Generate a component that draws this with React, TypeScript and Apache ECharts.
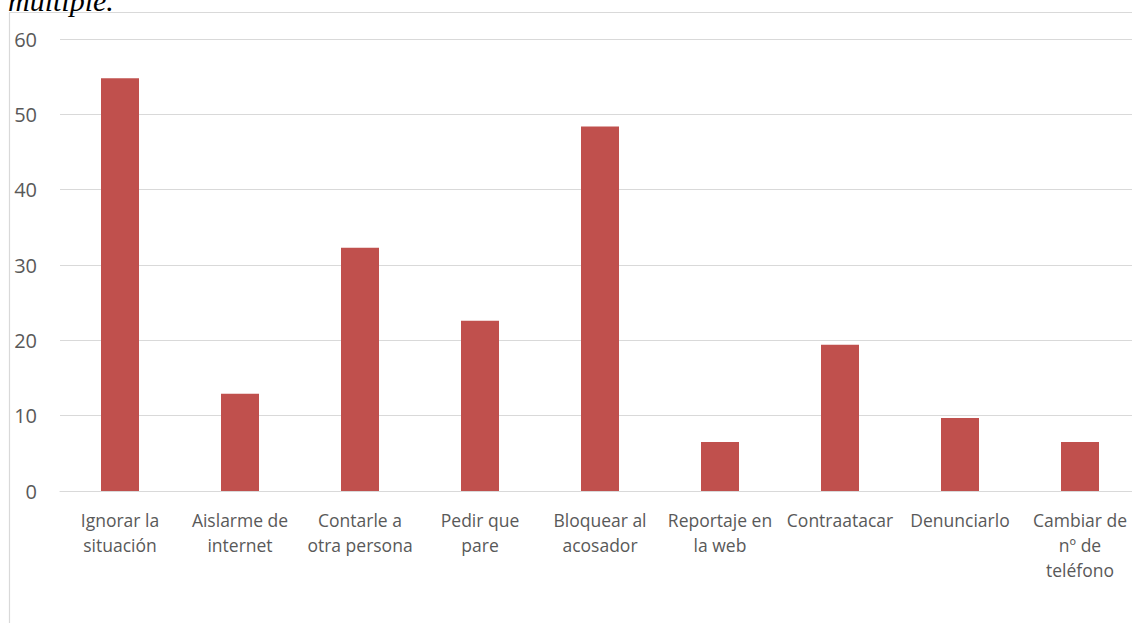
import React, { useEffect, useRef } from "react";
import * as echarts from "echarts";

const categories = [
  "Ignorar la\nsituación",
  "Aislarme de\ninternet",
  "Contarle a\notra persona",
  "Pedir que\npare",
  "Bloquear al\nacosador",
  "Reportaje en\nla web",
  "Contraatacar",
  "Denunciarlo",
  "Cambiar de\nnº de\nteléfono",
];
const values = [54.8, 12.9, 32.3, 22.6, 48.4, 6.5, 19.4, 9.7, 6.5];
const yMin = 0;
const yMax = 60;
const yStep = 10;
const headingText = "múltiple.";

export default function App() {
  const ref = useRef<HTMLDivElement>(null);
  useEffect(() => {
    if (!ref.current) return;
    const chart = echarts.init(ref.current, null, { renderer: "svg" });
    const font = "'Open Sans', 'Noto Sans', sans-serif";
    chart.setOption({
      animation: false,
      backgroundColor: "#ffffff",
      graphic: [
        {
          type: "rect",
          z: 0,
          silent: true,
          shape: { x: 9.5, y: 12.5, width: 1300, height: 800 },
          style: { fill: "none", stroke: "#d9d9d9", lineWidth: 1.2 },
        },
        {
          type: "text",
          x: 8,
          y: 0,
          silent: true,
          style: {
            text: headingText,
            font: "italic 30px 'Liberation Serif', 'DejaVu Serif', serif",
            fill: "#000000",
            verticalAlign: "middle",
            align: "left",
          },
        },
      ],
      grid: {
        left: 60,
        right: -8,
        top: 39,
        bottom: 132,
        outerBoundsMode: "none",
        containLabel: false,
      },
      xAxis: {
        type: "category",
        data: categories,
        axisTick: { show: false },
        axisLine: { lineStyle: { color: "#d9d9d9", width: 1.2 } },
        axisLabel: {
          interval: 0,
          color: "#595959",
          fontSize: 17.5,
          lineHeight: 25,
          margin: 16,
          fontFamily: font,
        },
      },
      yAxis: {
        type: "value",
        min: yMin,
        max: yMax,
        interval: yStep,
        axisLine: { show: false },
        axisTick: { show: false },
        splitLine: { lineStyle: { color: "#d9d9d9", width: 1.2 } },
        axisLabel: {
          color: "#595959",
          fontSize: 20,
          margin: 23,
          fontFamily: font,
        },
      },
      series: [
        {
          type: "bar",
          data: values,
          barWidth: 38,
          itemStyle: { color: "#c0504d" },
        },
      ],
    });
    return () => chart.dispose();
  }, []);
  return (
    <div
      ref={ref}
      style={{ position: "absolute", left: 0, top: 0, width: 1132, height: 623 }}
    />
  );
}
